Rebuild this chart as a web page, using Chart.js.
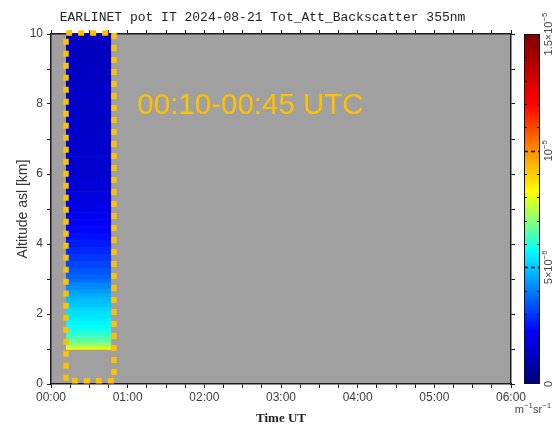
<!DOCTYPE html>
<html>
<head>
<meta charset="utf-8">
<script src="https://cdn.jsdelivr.net/npm/chart.js@4.4.1/dist/chart.umd.min.js"></script>
<style>
  html, body { margin: 0; padding: 0; background: #fff; }
  #wrap { width: 559px; height: 424px; }
</style>
</head>
<body>
<div id="wrap"><canvas id="chart" width="559" height="424"></canvas></div>
<script>
// Профиль обратного рассеяния (читается с картинки), высота в км
const altitudes = [1.02, 1.08, 1.15, 1.25, 1.35, 1.45, 1.55, 1.65, 1.75, 1.85,
                   1.95, 2.05, 2.15, 2.25, 2.35, 2.45, 2.55, 2.65, 2.75, 2.85,
                   2.95, 3.05, 3.15, 3.25, 3.4, 3.6, 3.8, 4.0, 4.2, 4.4,
                   4.6, 4.8, 5.0, 5.3, 5.7, 6.2, 6.8, 7.5, 8.2, 9.0, 9.7];
// значения в 1e-6 m^-1 sr^-1
const backscatter = [8.3, 7.5, 6.9, 6.6, 6.4, 6.1, 5.9, 5.7, 5.6, 5.5,
                     5.4, 5.3, 5.2, 5.0, 4.9, 4.8, 4.6, 4.4, 4.2, 4.1,
                     3.8, 3.6, 3.5, 3.4, 3.2, 3.0, 2.8, 2.6, 2.45, 2.3,
                     2.15, 2.0, 1.85, 1.7, 1.55, 1.45, 1.4, 1.35, 1.3, 1.25, 1.2];
const timeRange = [0.2, 0.78];          // часы UT
const timeTicks = Array.from({length: 25}, (_, i) => i / 4);
const altTicks = [0, 1, 2, 3, 4, 5, 6, 7, 8, 9, 10];
const cbMax = 15;
const cbLabels = [[0, ['0']], [5, ['5×10', '−6']], [10, ['10', '−5']], [15, ['1.5×10', '−5']]];
const boxTimes = [0.196, 0.822];
const boxAlts = [0.09, 10.03];
const noteText = '00:10-00:45 UTC';
const noteAt = [1.126, 7.71];

const ORANGE = '#FFC000';
const AXIS = '#1a1a1a';
const LABEL = '#3c3c3c';

// палитра (похожа на jet)
const cmapStops = [
  [0.00, [0, 0, 120]],
  [0.15, [0, 0, 255]],
  [0.333, [0, 200, 255]],
  [0.38, [0, 255, 255]],
  [0.46, [128, 255, 128]],
  [0.55, [255, 255, 0]],
  [0.68, [255, 128, 0]],
  [0.80, [255, 0, 0]],
  [1.00, [128, 0, 0]]
];
function cmap(f) {
  f = Math.max(0, Math.min(1, f));
  for (let i = 1; i < cmapStops.length; i++) {
    const [f1, c1] = cmapStops[i];
    const [f0, c0] = cmapStops[i - 1];
    if (f <= f1) {
      const t = (f - f0) / (f1 - f0);
      const c = c0.map((v, k) => Math.round(v + (c1[k] - v) * t));
      return `rgb(${c[0]},${c[1]},${c[2]})`;
    }
  }
  return 'rgb(128,0,0)';
}

const hh = v => String(v).padStart(2, '0') + ':00';

// текст с верхними индексами
function drawRich(ctx, parts, x, y, size, rotate, align) {
  ctx.save();
  ctx.translate(x, y);
  if (rotate) ctx.rotate(-Math.PI / 2);
  const fonts = parts.map((t, i) => (i % 2 ? size * 0.72 : size) + 'px "Liberation Sans", Arial, sans-serif');
  let w = 0;
  parts.forEach((t, i) => { ctx.font = fonts[i]; w += ctx.measureText(t).width; });
  let cx = align === 'left' ? 0 : -w / 2;
  ctx.textBaseline = 'middle';
  ctx.textAlign = 'left';
  parts.forEach((t, i) => {
    ctx.font = fonts[i];
    ctx.fillText(t, cx, i % 2 ? -size * 0.42 : 0);
    cx += ctx.measureText(t).width;
  });
  ctx.restore();
}

const decor = {
  id: 'decor',
  beforeDraw(chart) {
    const {ctx, chartArea: a} = chart;
    ctx.save();
    ctx.fillStyle = '#fff';
    ctx.fillRect(0, 0, chart.width, chart.height);
    ctx.fillStyle = '#a0a0a0';
    ctx.fillRect(a.left, a.top, a.right - a.left, a.bottom - a.top);
    ctx.restore();
  },
  afterDraw(chart) {
    const {ctx} = chart;
    const {x, y, cb} = chart.scales;
    ctx.save();

    // заголовок
    ctx.fillStyle = '#222';
    ctx.font = '13px "Liberation Mono", "Courier New", monospace';
    ctx.textAlign = 'center';
    ctx.textBaseline = 'alphabetic';
    ctx.fillText('EARLINET pot IT 2024-08-21 Tot_Att_Backscatter 355nm', 262.5, 21);

    // подпись интервала
    ctx.fillStyle = ORANGE;
    ctx.font = '29.5px "Liberation Sans", Arial, sans-serif';
    ctx.textAlign = 'left';
    ctx.fillText(noteText, x.getPixelForValue(noteAt[0]), y.getPixelForValue(noteAt[1]));

    // цветовая шкала
    const bx = cb.left + 8, bw = 16;
    const y0 = cb.getPixelForValue(0), y1 = cb.getPixelForValue(cbMax);
    const grad = ctx.createLinearGradient(0, y0, 0, y1);
    for (let i = 0; i <= 60; i++) grad.addColorStop(i / 60, cmap(i / 60));
    ctx.fillStyle = grad;
    ctx.fillRect(bx, y1, bw, y0 - y1);
    ctx.strokeStyle = '#111';
    ctx.lineWidth = 1;
    ctx.strokeRect(bx + 0.5, y1 + 0.5, bw - 1, y0 - y1 - 1);
    for (let v = 1; v < cbMax; v++) {
      const py = Math.round(cb.getPixelForValue(v)) + 0.5;
      ctx.beginPath();
      if (v % 5 === 0) {
        ctx.setLineDash([4, 3]);
        ctx.lineWidth = 1.5;
        ctx.moveTo(bx, py); ctx.lineTo(bx + bw, py);
      } else {
        ctx.setLineDash([]);
        ctx.lineWidth = 1;
        ctx.moveTo(bx, py); ctx.lineTo(bx + 3, py);
        ctx.moveTo(bx + bw - 3, py); ctx.lineTo(bx + bw, py);
      }
      ctx.stroke();
    }
    ctx.setLineDash([]);
    ctx.fillStyle = '#444';
    cbLabels.forEach(([v, parts]) => {
      drawRich(ctx, parts, bx + bw + 9, cb.getPixelForValue(v), 11, true);
    });
    drawRich(ctx, ['m', '−1', 'sr', '−1'], 533, 410, 11, false);
    ctx.restore();
  }
};

const tickFont = {family: '"Liberation Sans", Arial, sans-serif', size: 12};

const chart = new Chart(document.getElementById('chart'), {
  type: 'scatter',
  data: {
    datasets: [
      {
        type: 'bar',
        indexAxis: 'y',
        data: altitudes.map(a => ({y: a, x: timeRange.slice()})),
        backgroundColor: backscatter.map(v => cmap(v / cbMax)),
        borderWidth: 0,
        barPercentage: 1,
        categoryPercentage: 1,
        barThickness: 'flex',
        order: 2
      },
      {
        type: 'scatter',
        showLine: true,
        data: [
          {x: boxTimes[0], y: boxAlts[0]}, {x: boxTimes[0], y: boxAlts[1]},
          {x: boxTimes[1], y: boxAlts[1]}, {x: boxTimes[1], y: boxAlts[0]},
          {x: boxTimes[0], y: boxAlts[0]}
        ],
        borderColor: ORANGE,
        borderWidth: 5.5,
        borderDash: [6, 6],
        borderCapStyle: 'butt',
        pointRadius: 0,
        fill: false,
        clip: false,
        order: 1
      }
    ]
  },
  options: {
    responsive: false,
    animation: false,
    events: [],
    layout: {padding: 0},
    plugins: {legend: {display: false}, tooltip: {enabled: false}, title: {display: false}},
    scales: {
      x: {
        type: 'linear', position: 'bottom', min: 0, max: 6, offset: false,
        afterBuildTicks: s => { s.ticks = timeTicks.map(v => ({value: v})); },
        ticks: {autoSkip: false, maxRotation: 0, padding: 2, color: LABEL, font: tickFont,
                callback: v => Number.isInteger(v) ? hh(v) : ''},
        grid: {drawOnChartArea: false, tickLength: 4, color: AXIS, offset: false},
        border: {color: AXIS, width: 1.5},
        title: {display: true, text: 'Time UT', color: '#222', padding: {top: 0, bottom: -2},
                font: {family: '"Liberation Serif", "Times New Roman", serif', size: 13, weight: 'bold'}},
        afterFit: s => { s.height = 40; }
      },
      x2: {
        type: 'linear', position: 'top', min: 0, max: 6, offset: false, display: true,
        afterBuildTicks: s => { s.ticks = timeTicks.map(v => ({value: v})); },
        ticks: {autoSkip: false, callback: () => ''},
        grid: {drawOnChartArea: false, tickLength: 4, color: AXIS, offset: false},
        border: {color: AXIS, width: 1.5},
        afterFit: s => { s.height = 34; }
      },
      y: {
        type: 'linear', position: 'left', min: 0, max: 10, offset: false,
        afterBuildTicks: s => { s.ticks = altTicks.map(v => ({value: v})); },
        ticks: {autoSkip: false, padding: 4, color: LABEL, font: tickFont,
                callback: v => v % 2 === 0 ? String(v) : ''},
        grid: {drawOnChartArea: false, tickLength: 4, color: AXIS, offset: false},
        border: {color: AXIS, width: 1.5},
        title: {display: true, text: 'Altitude asl [km]', color: '#333', padding: {top: 15, bottom: 0},
                font: {family: '"Liberation Sans", Arial, sans-serif', size: 14}},
        afterFit: s => { s.width = 51; }
      },
      y2: {
        type: 'linear', position: 'right', min: 0, max: 10, offset: false, display: true,
        afterBuildTicks: s => { s.ticks = altTicks.map(v => ({value: v})); },
        ticks: {autoSkip: false, callback: () => ''},
        grid: {drawOnChartArea: false, tickLength: 4, color: AXIS, offset: false},
        border: {color: AXIS, width: 1.5},
        afterFit: s => { s.width = 5; }
      },
      cb: {
        type: 'linear', position: 'right', min: 0, max: cbMax, display: true,
        ticks: {display: false},
        grid: {display: false},
        border: {display: false},
        afterFit: s => { s.width = 43; }
      }
    }
  },
  plugins: [decor]
});
</script>
</body>
</html>
